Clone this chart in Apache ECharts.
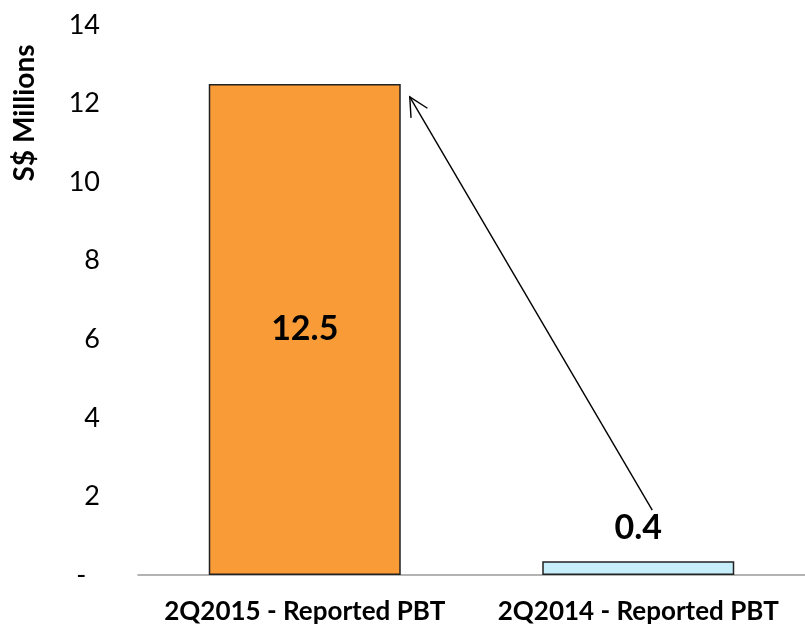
<!DOCTYPE html>
<html><head><meta charset="utf-8">
<script src="https://cdn.jsdelivr.net/npm/echarts@6/dist/echarts.min.js"></script>
<style>html,body{margin:0;padding:0;background:#fff}#c{width:805px;height:626px}</style>
</head><body><div id="c"></div>
<script>
const categories = ['2Q2015 - Reported PBT', '2Q2014 - Reported PBT'];
const values = [12.5, 0.35];
const valueLabels = ['12.5', '0.4'];
const barColors = ['#F99B37', '#C6EEFB'];
const yTicks = [0, 2, 4, 6, 8, 10, 12, 14];
const arrowFrom = [1, 1.65];
const arrowTo = [0, 12.17];

const FONT = 'Lato, "Open Sans", sans-serif';
const chart = echarts.init(document.getElementById('c'));
chart.setOption({
  animation: false,
  grid: { left: 138, right: -5, top: 25, bottom: 51 },
  xAxis: {
    type: 'category', data: categories,
    axisLine: { lineStyle: { color: '#9a9a9a', width: 1.5 } },
    axisTick: { show: false },
    axisLabel: { interval: 0, hideOverlap: false, color: '#000', fontFamily: FONT, fontWeight: 'bold', fontSize: 26, margin: 24 }
  },
  yAxis: {
    type: 'value', min: 0, max: 14, interval: 2,
    axisLine: { show: false }, axisTick: { show: false }, splitLine: { show: false },
    axisLabel: { color: '#000', fontFamily: FONT, fontSize: 27, margin: 38,
      formatter: v => v === 0 ? '-  ' : String(v) }
  },
  series: [{
    type: 'bar', barWidth: 192,
    data: values.map((v, i) => ({
      value: v,
      itemStyle: { color: barColors[i], borderColor: '#222', borderWidth: 1.5 },
      label: i === 0
        ? { show: true, position: 'inside', formatter: valueLabels[i], color: '#000', fontFamily: FONT, fontWeight: 'bold', fontSize: 34 }
        : { show: true, position: 'top', distance: 16, formatter: valueLabels[i], color: '#000', fontFamily: FONT, fontWeight: 'bold', fontSize: 34 }
    }))
  }]
});
const p1 = chart.convertToPixel({ seriesIndex: 0 }, arrowFrom);
const p2 = chart.convertToPixel({ seriesIndex: 0 }, arrowTo);
const x1 = p1[0] + 14, y1 = p1[1];
const x2 = p2[0] + 105, y2 = p2[1];
const ang = Math.atan2(y2 - y1, x2 - x1);
const L = 21, spread = 0.47;
const h1 = [x2 - L * Math.cos(ang - spread), y2 - L * Math.sin(ang - spread)];
const h2 = [x2 - L * Math.cos(ang + spread), y2 - L * Math.sin(ang + spread)];
chart.setOption({
  graphic: [
    { type: 'line', shape: { x1, y1, x2, y2 }, style: { stroke: '#000', lineWidth: 1.4 } },
    { type: 'polyline', shape: { points: [h1, [x2, y2], h2] }, style: { stroke: '#000', lineWidth: 1.4, fill: null } },
    { type: 'text', x: 25, y: 113, rotation: Math.PI / 2,
      style: { text: 'S$ Millions', fill: '#000', font: 'bold 28px ' + FONT, align: 'center', verticalAlign: 'middle' } }
  ]
});
</script></body></html>
